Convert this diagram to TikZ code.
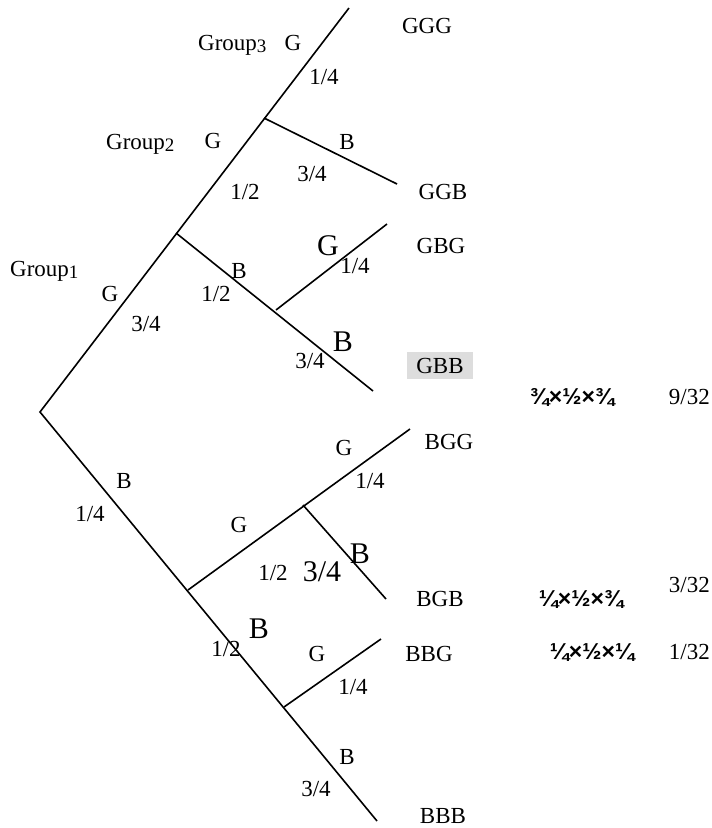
\documentclass[tikz,border=0pt]{standalone}
\usepackage{fontspec}
\setmainfont{Liberation Serif}
\newfontfamily\prodfont{Liberation Sans}[BoldFont=* Bold]
\newcommand{\grpsub}[1]{\raisebox{-0.12em}{\fontsize{19}{19}\selectfont #1}}
\begin{document}
\begin{tikzpicture}[x=1pt,y=-1pt,
  branch/.style={line width=1.6pt,line cap=butt,line join=miter},
  lbl/.style={inner sep=0pt,font=\fontsize{23}{27}\selectfont},
  biglbl/.style={inner sep=0pt,font=\fontsize{30}{34}\selectfont},
  leaf/.style={lbl},
  prod/.style={inner sep=0pt,font=\prodfont\bfseries\fontsize{23}{27}\selectfont},
  total/.style={lbl,anchor=east}]
\definecolor{hilite}{RGB}{221,221,221}
\useasboundingbox (0,0) rectangle (712,828);

% branch points and leaf ends
\coordinate (root) at (40,412);
\coordinate (gTop) at (349,8);
\coordinate (gJ1) at (176,233);
\coordinate (gJ2) at (264,118);
\coordinate (ggbEnd) at (397,184);
\coordinate (gbEnd) at (373,391);
\coordinate (gbJ) at (276,310);
\coordinate (gbgEnd) at (387,224);
\coordinate (bEnd) at (377,821);
\coordinate (bJ1) at (188,590);
\coordinate (bJ2) at (284,707);
\coordinate (bgJ) at (303,505);
\coordinate (bggEnd) at (410,429);
\coordinate (bgbEnd) at (386,599);
\coordinate (bbgEnd) at (381,639);

% tree
\draw[branch] (gTop) -- (root) -- (bEnd);
\draw[branch] (gJ2) -- (ggbEnd);
\draw[branch] (gJ1) -- (gbEnd);
\draw[branch] (gbJ) -- (gbgEnd);
\draw[branch] (bJ1) -- (bggEnd);
\draw[branch] (bgJ) -- (bgbEnd);
\draw[branch] (bJ2) -- (bbgEnd);

% group headings
\node[lbl,anchor=base west] (grp3) at (198,50) {Group\grpsub{3}};
\node[lbl,anchor=base west] (grp2) at (106,149) {Group\grpsub{2}};
\node[lbl,anchor=base west] (grp1) at (10,276) {Group\grpsub{1}};

% outcomes
\node[leaf] (ggg) at (427,26) {GGG};
\node[leaf] (ggb) at (443,192) {GGB};
\node[leaf] (gbg) at (441,246) {GBG};
\node[leaf,fill=hilite,minimum width=66pt,minimum height=27pt] (gbb) at (440,365.5) {GBB};
\node[leaf] (bgg) at (449,442) {BGG};
\node[leaf] (bgb) at (440,599) {BGB};
\node[leaf] (bbg) at (429,654) {BBG};
\node[leaf] (bbb) at (443,816) {BBB};

% products and totals
\node[prod] (p1) at (572,397) {¾×½×¾};
\node[total] (t1) at (710,397) {9/32};
\node[prod] (p2) at (581,599) {¼×½×¾};
\node[total] (t2) at (710,585) {3/32};
\node[prod] (p3) at (592,653) {¼×½×¼};
\node[total] (t3) at (710,652) {1/32};

% branch labels, upper half
\node[lbl] (e1) at (293,43) {G};
\node[lbl] (e2) at (324,77) {1/4};
\node[lbl] (e3) at (213,141) {G};
\node[lbl] (e4) at (347,142) {B};
\node[lbl] (e5) at (312,174) {3/4};
\node[lbl] (e6) at (245,192) {1/2};
\node[biglbl] (e7) at (328,246) {G};
\node[lbl] (e8) at (355,266) {1/4};
\node[lbl] (e9) at (110,294) {G};
\node[lbl] (e10) at (239,271) {B};
\node[lbl] (e11) at (216,294) {1/2};
\node[lbl] (e12) at (146,324) {3/4};
\node[biglbl] (e13) at (343,342) {B};
\node[lbl] (e14) at (310,361) {3/4};

% branch labels, lower half
\node[lbl] (f1) at (124,481) {B};
\node[lbl] (f2) at (90,514) {1/4};
\node[lbl] (f3) at (344,448) {G};
\node[lbl] (f4) at (370,481) {1/4};
\node[lbl] (f5) at (239,525) {G};
\node[lbl] (f6) at (273,573) {1/2};
\node[biglbl] (f7) at (322,572) {3/4};
\node[biglbl] (f8) at (360,554) {B};
\node[biglbl] (f9) at (259,629) {B};
\node[lbl] (f10) at (226,649) {1/2};
\node[lbl] (f11) at (317,654) {G};
\node[lbl] (f12) at (353,687) {1/4};
\node[lbl] (f13) at (347,757) {B};
\node[lbl] (f14) at (316,789) {3/4};
\end{tikzpicture}
\end{document}
